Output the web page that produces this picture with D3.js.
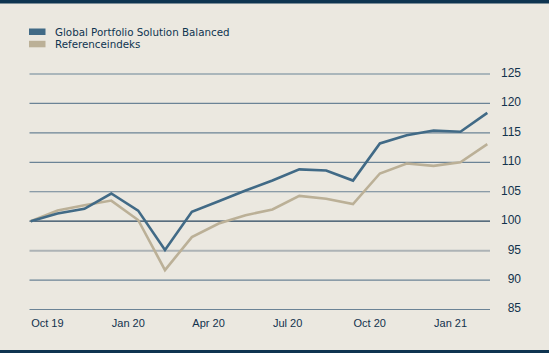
<!DOCTYPE html>
<html>
<head>
<meta charset="utf-8">
<script src="https://cdn.jsdelivr.net/npm/d3@7"></script>
<style>
  html, body { margin: 0; padding: 0; background: #ebe8e0; }
  svg { display: block; font-family: 'DejaVu Sans', sans-serif; }
  .axis path, .axis line { display: none; }
  .axis text { fill: #12324d; }
</style>
</head>
<body>
<div class="chart"></div>
<script>
const WIDTH = 549
const HEIGHT = 353

const months = ['2019-10', '2019-11', '2019-12', '2020-01', '2020-02', '2020-03', '2020-04', '2020-05', '2020-06',
  '2020-07', '2020-08', '2020-09', '2020-10', '2020-11', '2020-12', '2021-01', '2021-02', '2021-03']
const portfolio = [100, 101.3, 102.1, 104.7, 101.8, 95.1, 101.6, 103.4, 105.2, 106.9, 108.8, 108.6, 106.9, 113.2, 114.6, 115.4, 115.2, 118.4]
const reference = [100, 101.8, 102.7, 103.5, 100.2, 91.7, 97.3, 99.6, 101.0, 102.0, 104.3, 103.8, 102.9, 108.1, 109.8, 109.4, 110.0, 113.1]
const tickMonths = ['2019-10', '2020-01', '2020-04', '2020-07', '2020-10', '2021-01']
const tickLabels = ['Oct 19', 'Jan 20', 'Apr 20', 'Jul 20', 'Oct 20', 'Jan 21']
const yTicks = [85, 90, 95, 100, 105, 110, 115, 120, 125]
const seriesNames = ['Global Portfolio Solution Balanced', 'Referenceindeks']

const COLORS = ['#416a86', '#bbb097']
const NAVY = '#0e3450'

const margin = {top: 74, right: 59, bottom: 44, left: 30}

const svg = d3.select('.chart').append('svg')
  .attr('width', WIDTH)
  .attr('height', HEIGHT)

svg.append('rect').attr('width', WIDTH).attr('height', HEIGHT).attr('fill', '#ebe8e0')
svg.append('rect').attr('width', WIDTH).attr('height', 3.5).attr('fill', NAVY)
svg.append('rect').attr('y', HEIGHT - 3).attr('width', WIDTH).attr('height', 3).attr('fill', NAVY)

const scaleX = d3.scalePoint()
  .domain(months)
  .range([30.7, 487.3])

const scaleY = d3.scaleLinear()
  .domain([85, 125])
  .range([309.5, 74])

// grid
const grid = svg.append('g').attr('class', 'grid')
grid.selectAll('line').data(yTicks).enter().append('line')
  .attr('x1', 29.5)
  .attr('x2', 490)
  .attr('y1', d => scaleY(d))
  .attr('y2', d => scaleY(d))
  .attr('stroke', d => d === 100 ? '#27455e' : d === 95 ? '#adb3b6' : '#6b8396')
  .attr('stroke-width', d => d === 95 ? 2 : 1.2)

// y axis on the right
const axisRight = d3.axisRight(scaleY).tickValues(yTicks).tickSize(0)
const y = svg.append('g').attr('class', 'axis axis--y')
  .attr('transform', 'translate(521,0)')
  .call(axisRight)
y.selectAll('text')
  .attr('x', 0)
  .attr('dy', '0.2em')
  .attr('text-anchor', 'end')
  .style('font-size', '12px')

// x axis
const axisBottom = d3.axisBottom(scaleX)
  .tickValues(tickMonths)
  .tickSize(0)
  .tickFormat((d, i) => tickLabels[i])
const x = svg.append('g').attr('class', 'axis axis--x')
  .attr('transform', 'translate(0,319)')
  .call(axisBottom)
x.selectAll('text')
  .attr('text-anchor', 'start')
  .attr('y', 0)
  .attr('dy', '0.71em')
  .style('font-size', '11px')

// lines
const line = d3.line()
  .x((d, i) => scaleX(months[i]))
  .y(d => scaleY(d))

svg.selectAll('path.series').data([reference, portfolio]).enter().append('path')
  .attr('class', 'series')
  .attr('d', line)
  .attr('fill', 'none')
  .attr('stroke', (d, i) => i === 0 ? COLORS[1] : COLORS[0])
  .attr('stroke-width', 2.6)
  .attr('stroke-linejoin', 'miter')

// legend
const legend = svg.append('g').attr('class', 'legend')
const items = legend.selectAll('g').data(seriesNames).enter().append('g')
  .attr('transform', (d, i) => `translate(29, ${28.5 + i * 12.3})`)
items.append('rect')
  .attr('width', 16.5)
  .attr('height', 6.5)
  .attr('fill', (d, i) => COLORS[i])
items.append('text')
  .attr('x', 26)
  .attr('y', 7.5)
  .attr('fill', NAVY)
  .style('font-size', '10.3px')
  .text(d => d)
</script>
</body>
</html>
